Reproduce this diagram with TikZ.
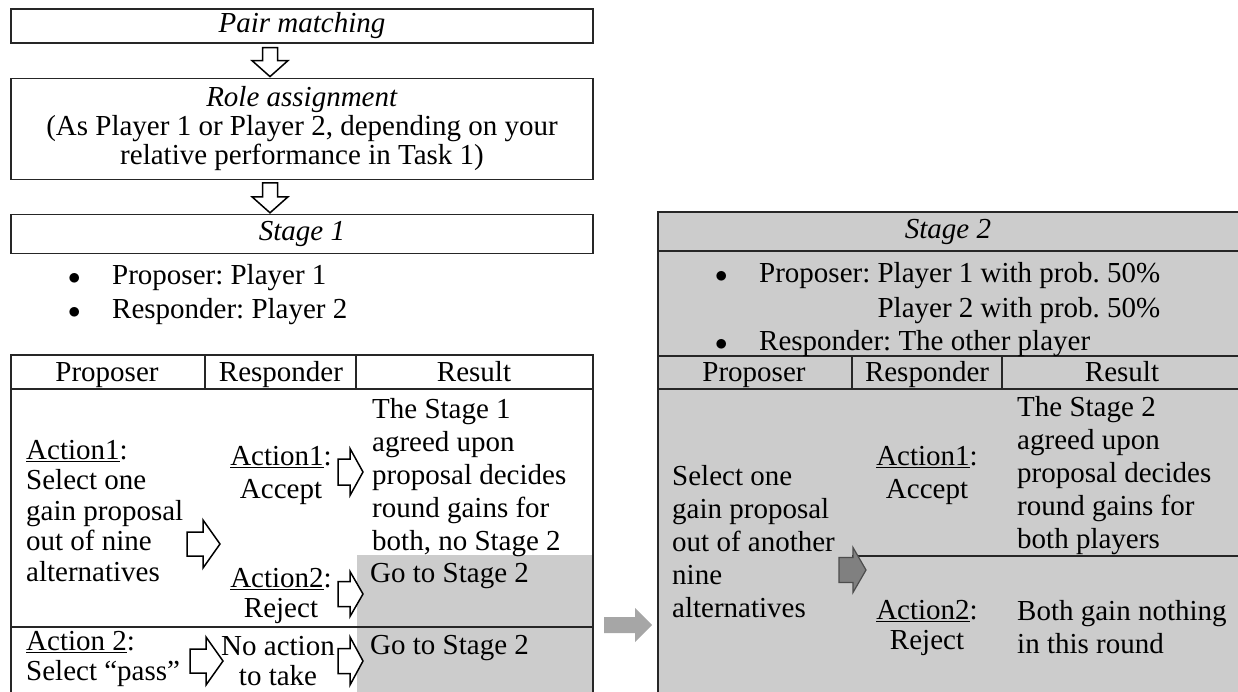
\documentclass[tikz,border=0pt]{standalone}
\usepackage{fontspec}
\setmainfont{Liberation Serif}
\usetikzlibrary{positioning}
\frenchspacing
\newcommand{\diagfont}{\fontsize{29}{29}\selectfont}
\newcommand{\cellfont}{\fontsize{29}{33}\selectfont}
\newcommand{\tightfont}{\fontsize{29}{30.5}\selectfont}
\newcommand{\dotitem}{\makebox[44pt][l]{$\bullet$}}

\begin{document}
\begin{tikzpicture}[
            x=1pt, y=-1pt,
            every node/.style={font=\diagfont, inner sep=0pt},
            stagebox/.style={rectangle, draw=black!85, line width=1.2pt, minimum width=582pt, align=center},
            frame/.style={draw=black!85, line width=1.2pt},
            shaded/.style={fill=gray!40},
            cell/.style={align=left, anchor=north west, font=\cellfont},
            tightcell/.style={align=left, anchor=north west, font=\tightfont},
            answer/.style={align=center, anchor=north, font=\cellfont},
            head/.style={anchor=base},
            hollow/.style={draw=black, fill=white, line width=1.5pt, line join=miter},
            darkarrow/.style={draw=black!70, fill=gray, line width=1.2pt},
            softarrow/.style={fill=gray!70},
            pics/blockarrow/.style n args={4}{code={
                % #1 length, #2 head length, #3 head width, #4 shaft width
                \path[pic actions] (0,-#4/2) -- (#1-#2,-#4/2) -- (#1-#2,-#3/2) -- (#1,0)
                    -- (#1-#2,#3/2) -- (#1-#2,#4/2) -- (0,#4/2) -- cycle;
            }}
        ]
        \useasboundingbox (0,0) rectangle (1238,692);
        \clip (0,0) rectangle (1238,692);

        % Define the boxes of the first column
        \node[stagebox, minimum height=34pt] (pair) at (302,26) {\textit{Pair matching}};
        \node[stagebox, minimum height=101pt, below=34pt of pair] (role) {\textit{Role assignment}\\(As Player 1 or Player 2, depending on your\\relative performance in Task 1)};
        \node[stagebox, minimum height=39pt, below=34pt of role] (stage1) {\textit{Stage 1}};

        % Draw the arrows between the boxes
        \pic[hollow, rotate=-90] at ([xshift=-32pt, yshift=-4pt]pair.south) {blockarrow={29}{16}{36}{15}};
        \pic[hollow, rotate=-90] at ([xshift=-32pt, yshift=-3pt]role.south) {blockarrow={30}{16}{36}{15}};

        % Roles in Stage 1
        \node[anchor=base west] (roles1a) at (68,285) {\dotitem Proposer: Player 1};
        \node[anchor=base west] (roles1b) at (68,318) {\dotitem Responder: Player 2};

        % Stage 1 table
        \fill[shaded] (357,555) rectangle (593,700);
        \draw[frame] (11,700) -- (11,355) -- (593,355) -- (593,700);
        \draw[frame] (11,389) -- (593,389);
        \draw[frame] (205,355) -- (205,389);
        \draw[frame] (356,355) -- (356,389);
        \draw[frame] (11,627) -- (593,627);

        \node[head] (proposer1) at (107,381) {Proposer};
        \node[head] (responder1) at (281,381) {Responder};
        \node[head] (result1) at (474,381) {Result};

        \node[tightcell] (offer1) at (26,440) {\underline{Action1}:\\Select one\\gain proposal\\out of nine\\alternatives};
        \node[answer] (accept1) at (281,446) {\underline{Action1}:\\Accept};
        \node[answer, font=\tightfont] (reject1) at (281,568) {\underline{Action2}:\\Reject};
        \node[cell] (agreed1) at (372,398) {The Stage 1\\agreed upon\\proposal decides\\round gains for\\both, no Stage 2};
        \node[cell] (goon1) at (370,563) {Go to Stage 2};
        \node[tightcell] (pass1) at (26,631) {\underline{Action 2}:\\Select “pass”};
        \node[answer, font=\tightfont] (noaction1) at (278,636) {No action\\to take};
        \node[cell] (goon2) at (370,635) {Go to Stage 2};

        \pic[hollow] at (187,544) {blockarrow={33}{17}{48}{24}};
        \pic[hollow] at (338,472) {blockarrow={25}{13}{47}{26}};
        \pic[hollow] at (338,594) {blockarrow={25}{13}{45}{25}};
        \pic[hollow] at (190,661) {blockarrow={33}{17}{48}{24}};
        \pic[hollow] at (338,661) {blockarrow={25}{13}{48}{25}};

        % Arrow to Stage 2
        \pic[softarrow] at (604,625) {blockarrow={48}{17}{34}{16}};

        % Stage 2 block
        \fill[shaded] (658,212) rectangle (1240,700);
        \draw[frame] (658,700) -- (658,212) -- (1240,212) -- (1240,700);
        \draw[frame] (658,251) -- (1240,251);
        \draw[frame] (658,356) -- (1240,356);
        \draw[frame] (658,389) -- (1240,389);
        \draw[frame] (852,356) -- (852,389);
        \draw[frame] (1002,356) -- (1002,389);
        \draw[frame] (852,556) -- (1240,556);

        \node (stage2) at (948,232) {\textit{Stage 2}};
        \node[anchor=base west] (roles2a) at (715,283) {\dotitem Proposer: Player 1 with prob. 50\%};
        \node[anchor=base west] (roles2b) at (715,317) {\makebox[44pt][l]{}\phantom{Proposer: }Player 2 with prob. 50\%};
        \node[anchor=base west] (roles2c) at (715,350) {\dotitem Responder: The other player};

        \node[head] (proposer2) at (754,381) {Proposer};
        \node[head] (responder2) at (927,381) {Responder};
        \node[head] (result2) at (1122,381) {Result};

        \node[cell] (offer2) at (672,465) {Select one\\gain proposal\\out of another\\nine\\alternatives};
        \node[answer] (accept2) at (927,446) {\underline{Action1}:\\Accept};
        \node[answer, font=\tightfont] (reject2) at (927,600) {\underline{Action2}:\\Reject};
        \node[cell] (agreed2) at (1017,396) {The Stage 2\\agreed upon\\proposal decides\\round gains for\\both players};
        \node[cell] (nothing2) at (1017,600) {Both gain nothing\\in this round};

        \pic[darkarrow] at (839,570) {blockarrow={27}{13}{45}{25}};
    \end{tikzpicture}
\end{document}
